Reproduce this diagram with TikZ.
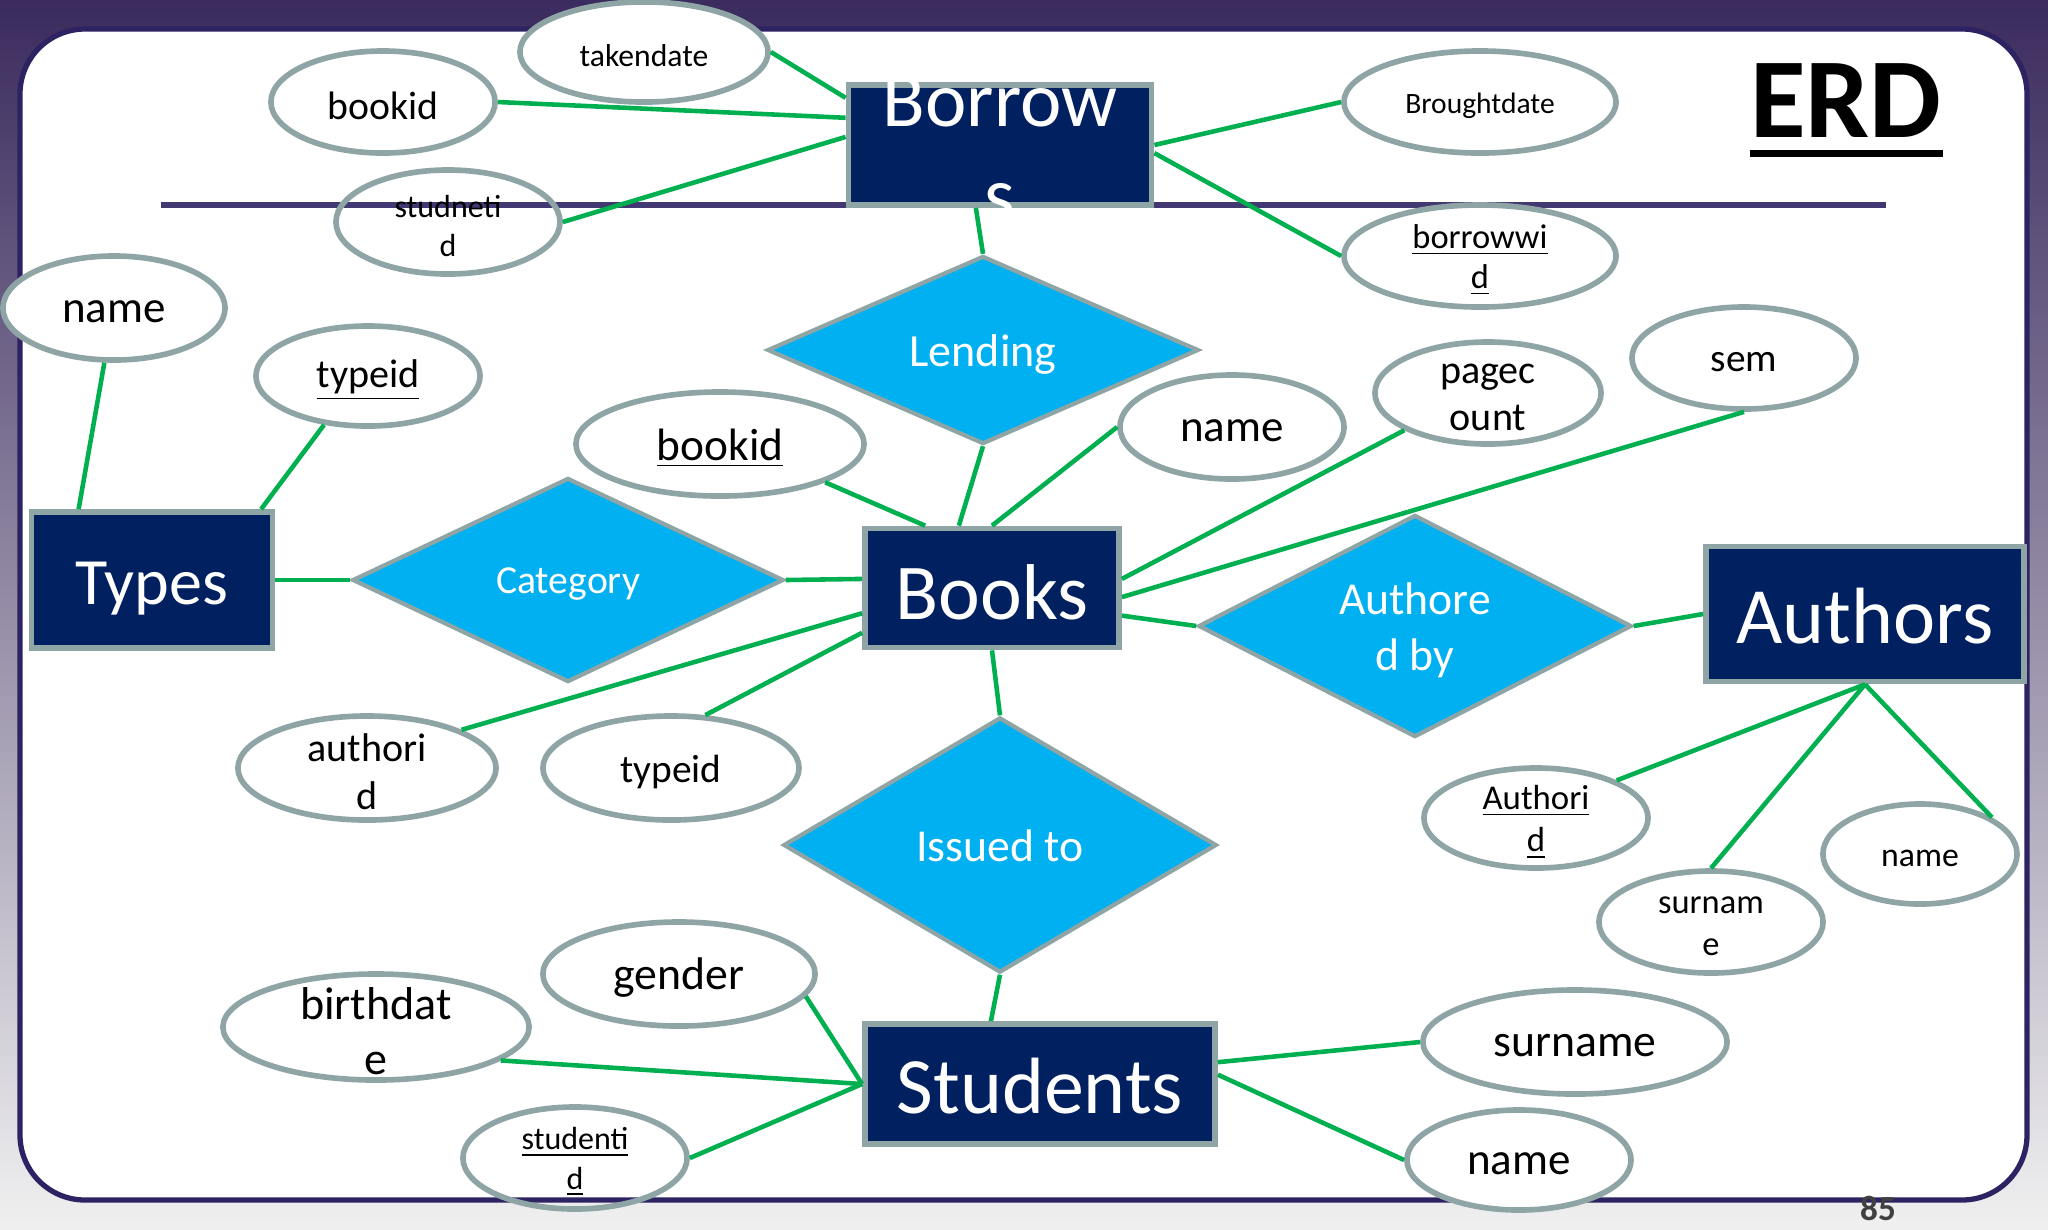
\documentclass[tikz,border=0pt]{standalone}
\usepackage{fontspec}
\setmainfont{Carlito}
\usetikzlibrary{shapes.geometric}

\definecolor{slidepurple}{HTML}{3B2B5E}
\definecolor{slidegrey}{HTML}{F0F0F0}
\definecolor{framepurple}{HTML}{2D2362}
\definecolor{entitynavy}{HTML}{002060}
\definecolor{relblue}{HTML}{00B0F0}
\definecolor{rimgrey}{HTML}{8FA5A5}
\definecolor{linkgreen}{HTML}{00B050}
\definecolor{pagegrey}{HTML}{404040}

\newcommand{\fs}[2]{\fontsize{#1}{#2}\selectfont}

\tikzset{
  entity/.style={rectangle, draw=rimgrey, line width=1.6pt, fill=entitynavy, inner sep=0pt},
  relation/.style={diamond, draw=rimgrey, line width=1.2pt, fill=relblue, inner sep=0pt},
  attr/.style={ellipse, draw=rimgrey, line width=1.6pt, fill=white, inner sep=0pt},
  atxt/.style={align=center, inner sep=0pt, yshift=-0.04cm},
  wtxt/.style={atxt, text=white},
  link/.style={linkgreen, line width=1.3pt},
  frame/.style={framepurple, line width=1.5pt},
}

\begin{document}
\begin{tikzpicture}[x=0.01cm, y=-0.01cm]
  \useasboundingbox (0,0) rectangle (2048,1229);
  % slide background
  \shade[top color=slidepurple, middle color=slidepurple!38!slidegrey, bottom color=slidegrey] (0,0) rectangle (2048,1229);
  \fill[white, rounded corners=0.65cm] (20,29) rectangle (2027,1200);
  \draw[frame, rounded corners=0.65cm] (20,29) rectangle (2027,1200);
  \draw[framepurple!90!white, line width=1.8pt] (161,205) -- (1886,205);

  % attributes of Borrows
  \node[attr, minimum width=2.48cm, minimum height=1.00cm, label={[atxt, font=\fs{9}{11}]center:takendate}] (takendate) at (644,52) {};
  \node[attr, minimum width=2.24cm, minimum height=1.02cm, label={[atxt, font=\fs{11.3}{13.5}]center:bookid}] (brbookid) at (383,102) {};
  \node[attr, fill=none, minimum width=2.24cm, minimum height=1.04cm, label={[atxt, font=\fs{9.1}{11.1}]center:studneti\\d}] (studnetid) at (448,222) {};
  \node[attr, minimum width=2.72cm, minimum height=1.02cm, label={[atxt, font=\fs{8.4}{10}]center:Broughtdate}] (broughtdate) at (1480,102) {};
  \node[attr, minimum width=2.72cm, minimum height=1.02cm, label={[atxt, font=\fs{9.8}{11.4}]center:\underline{borrowwi}\\\underline{d}}] (borrowwid) at (1480,256) {};

  % attributes of Types
  \node[attr, minimum width=2.22cm, minimum height=1.04cm, label={[atxt, font=\fs{12.8}{15}]center:name}] (tyname) at (114,308) {};
  \node[attr, minimum width=2.24cm, minimum height=1.00cm, label={[atxt, font=\fs{11.4}{13}]center:\underline{typeid}}] (tytypeid) at (368,376) {};

  % attributes of Books
  \node[attr, minimum width=2.88cm, minimum height=1.04cm, label={[atxt, font=\fs{12.9}{15}]center:\underline{bookid}}] (bkbookid) at (720,444) {};
  \node[attr, minimum width=2.24cm, minimum height=1.04cm, label={[atxt, font=\fs{12.8}{15}]center:name}] (bkname) at (1232,427) {};
  \node[attr, minimum width=2.26cm, minimum height=1.02cm, label={[atxt, font=\fs{11.4}{13.4}]center:pagec\\ount}] (pagecount) at (1488,393) {};
  \node[attr, minimum width=2.24cm, minimum height=1.02cm, label={[atxt, font=\fs{11.2}{13}]center:sem}] (sem) at (1744,358) {};
  \node[attr, minimum width=2.58cm, minimum height=1.04cm, label={[atxt, font=\fs{11.4}{13.7}]center:authori\\d}] (bkauthorid) at (367,768) {};
  \node[attr, minimum width=2.56cm, minimum height=1.04cm, label={[atxt, font=\fs{11.2}{13}]center:typeid}] (bktypeid) at (671,768) {};

  % attributes of Authors
  \node[attr, minimum width=2.24cm, minimum height=1.00cm, label={[atxt, font=\fs{9.9}{12.2}]center:\underline{Authori}\\\underline{d}}] (auauthorid) at (1536,818) {};
  \node[attr, minimum width=1.94cm, minimum height=1.00cm, label={[atxt, font=\fs{9.6}{11}]center:name}] (auname) at (1920,854) {};
  \node[attr, minimum width=2.24cm, minimum height=1.02cm, label={[atxt, font=\fs{9.8}{12}]center:surnam\\e}] (ausurname) at (1711,922) {};

  % attributes of Students
  \node[attr, minimum width=2.72cm, minimum height=1.04cm, label={[atxt, font=\fs{13}{15.6}]center:gender}] (stgender) at (679,974) {};
  \node[attr, minimum width=3.06cm, minimum height=1.06cm, label={[atxt, font=\fs{13.1}{15.6}]center:birthdat\\e}] (stbirthdate) at (376,1027) {};
  \node[attr, fill=none, minimum width=2.24cm, minimum height=1.02cm, label={[atxt, font=\fs{9.1}{11.1}]center:\underline{studenti}\\\underline{d}}] (ststudentid) at (575,1158) {};
  \node[attr, minimum width=3.04cm, minimum height=1.04cm, label={[atxt, font=\fs{13}{15.6}]center:surname}] (stsurname) at (1575,1042) {};
  \node[attr, minimum width=2.24cm, minimum height=1.00cm, label={[atxt, font=\fs{12.8}{15.6}]center:name}] (stname) at (1519,1160) {};

  % entities
  \node[entity, minimum width=3.03cm, minimum height=1.20cm, label={[wtxt, font=\fs{22.3}{27}]center:Borrow\\s}] (borrows) at (1000,145) {};
  \node[entity, minimum width=2.41cm, minimum height=1.36cm, label={[wtxt, yshift=-0.05cm, font=\fs{18.8}{22}]center:Types}] (types) at (152,580) {};
  \node[entity, minimum width=2.54cm, minimum height=1.19cm, label={[wtxt, font=\fs{22.5}{27}]center:Books}] (books) at (992,588) {};
  \node[entity, minimum width=3.18cm, minimum height=1.35cm, label={[wtxt, yshift=0.02cm, font=\fs{22.7}{27}]center:Authors}] (authors) at (1865,614) {};
  \node[entity, minimum width=3.50cm, minimum height=1.20cm, label={[wtxt, yshift=0.02cm, font=\fs{22.7}{27}]center:Students}] (students) at (1040,1084) {};

  % relationships
  \node[relation, minimum width=4.31cm, minimum height=1.88cm, label={[wtxt, font=\fs{13.1}{15.7}]center:Lending}] (lending) at (983,350) {};
  \node[relation, minimum width=4.31cm, minimum height=2.04cm, label={[wtxt, font=\fs{11.3}{13.5}]center:Category}] (category) at (568,580) {};
  \node[relation, minimum width=4.33cm, minimum height=2.22cm, label={[wtxt, font=\fs{13}{16}]center:Authore\\d by}] (authoredby) at (1415,626) {};
  \node[relation, minimum width=4.33cm, minimum height=2.55cm, label={[wtxt, yshift=0.03cm, font=\fs{13}{15.6}]center:Issued to}] (issuedto) at (1000,845) {};

  % connectors
  \draw[link] (takendate.east) -- (borrows.163);
  \draw[link] (brbookid.east) -- (borrows.170);
  \draw[link] (studnetid.east) -- (borrows.177);
  \draw[link] (borrows.east) -- (broughtdate.west);
  \draw[link] (borrows.-3) -- (borrowwid.west);
  \draw[link] (borrows.249) -- (lending.north);
  \draw[link] (lending.south) -- (books.118);
  \draw[link] (tyname.260) -- (types.136);
  \draw[link] (tytypeid.228) -- (types.33);
  \draw[link] (types.east) -- (category.west);
  \draw[link] (category.east) -- (books.176);
  \draw[link] (bkbookid.340) -- (books.137);
  \draw[link] (bkname.west) -- (books.north);
  \draw[link] (pagecount.204) -- (books.4);
  \draw[link] (sem.south) -- (books.-4);
  \draw[link] (books.-12) -- (authoredby.west);
  \draw[link] (authoredby.east) -- (authors.west);
  \draw[link] (bkauthorid.22) -- (books.191);
  \draw[link] (bktypeid.57) -- (books.199);
  \draw[link] (books.south) -- (issuedto.north);
  \draw[link] (issuedto.south) -- (students.128);
  \draw[link] (authors.south) -- (auauthorid.25);
  \draw[link] (authors.south) -- (ausurname.north);
  \draw[link] (authors.south) -- (auname.27);
  \draw[link] (stgender.350) -- (students.west);
  \draw[link] (stbirthdate.345) -- (students.west);
  \draw[link] (ststudentid.east) -- (students.west);
  \draw[link] (students.7) -- (stsurname.west);
  \draw[link] (students.3) -- (stname.west);

  % title and page number
  \node[anchor=base, inner sep=0pt, font=\fs{32.4}{38}\bfseries] (erd) at (1846,137) {ERD};
  \draw[line width=2pt] ([yshift=-0.16cm]erd.south west) -- ([yshift=-0.16cm]erd.south east);
  \node[font=\fs{10}{12}\bfseries, text=pagegrey] (pagenum) at (1878,1208) {85};
\end{tikzpicture}
\end{document}
